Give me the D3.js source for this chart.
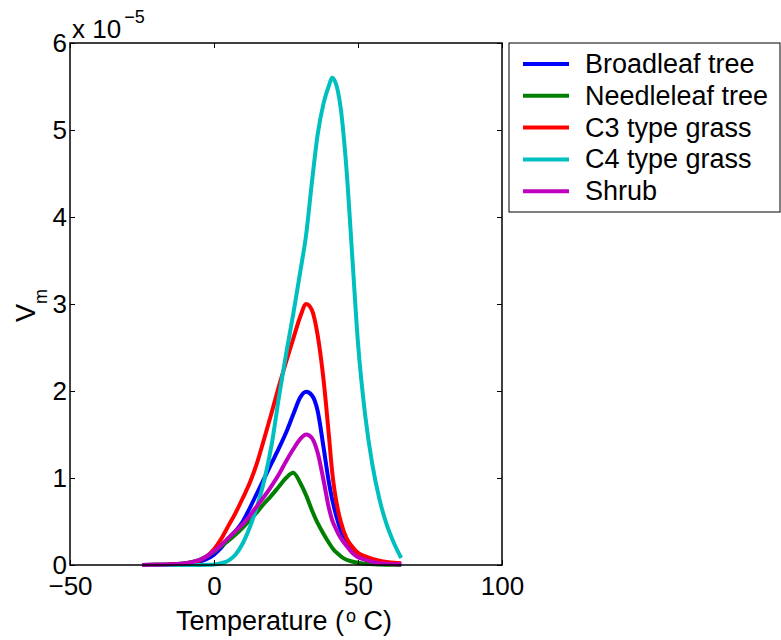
<!DOCTYPE html>
<html lang="en">
<head>
	<meta charset="UTF-8">
	<script src="https://d3js.org/d3.v7.min.js"></script>
	<title>Vm vs Temperature</title>
	<style type="text/css">
		body{ margin: 0; background: #fff; }
		text{ font-family: "Liberation Sans", Arial, Helvetica, sans-serif; fill: #000; }
		.line{ fill: none; stroke-width: 4; stroke-linejoin: round; }
	</style>
</head>
<body>
	<svg width="781" height="640"></svg>
<script>
// temperature (deg C), shared by every series
var temps = [-25, -20, -15, -10, -7.5, -5, -2.5, 0, 2.5, 5, 7.5, 10, 12.5, 15, 17.5, 20, 22.5, 25, 27.5, 30,
	32, 34, 36, 38, 40, 41, 42, 43, 44, 46, 48, 50, 52.5, 55, 57.5, 60, 62.5, 65];

// Vm in units of 1e-5
var broadleaf = [0, 0.002, 0.006, 0.015, 0.025, 0.04, 0.07, 0.12, 0.2, 0.3, 0.39, 0.5, 0.66, 0.83, 1.0, 1.17, 1.34, 1.52, 1.73, 1.93,
	1.99, 1.95, 1.77, 1.36, 0.93, 0.76, 0.62, 0.5, 0.4, 0.29, 0.2, 0.13, 0.08, 0.05, 0.03, 0.02, 0.015, 0.01];
var needleleaf = [0, 0.002, 0.007, 0.02, 0.035, 0.06, 0.1, 0.15, 0.22, 0.28, 0.35, 0.43, 0.52, 0.61, 0.71, 0.8, 0.9, 1.0, 1.06, 0.94,
	0.8, 0.63, 0.48, 0.36, 0.25, 0.2, 0.16, 0.13, 0.1, 0.06, 0.04, 0.025, 0.015, 0.01, 0.005, 0.003, 0.002, 0.001];
var c3grass = [0, 0.002, 0.006, 0.015, 0.03, 0.05, 0.1, 0.18, 0.3, 0.45, 0.6, 0.77, 0.95, 1.18, 1.46, 1.75, 2.05, 2.33, 2.6, 2.86,
	3.0, 2.93, 2.64, 2.14, 1.45, 1.08, 0.82, 0.64, 0.5, 0.31, 0.21, 0.14, 0.1, 0.07, 0.05, 0.035, 0.025, 0.02];
var c4grass = [0, 0, 0, 0, 0, 0, 0.002, 0.006, 0.02, 0.05, 0.12, 0.25, 0.44, 0.68, 0.98, 1.38, 1.92, 2.42, 2.88, 3.38,
	3.8, 4.4, 4.95, 5.3, 5.52, 5.6, 5.56, 5.45, 5.25, 4.55, 3.55, 2.55, 1.72, 1.15, 0.75, 0.46, 0.25, 0.08];
var shrub = [0, 0.003, 0.008, 0.02, 0.035, 0.06, 0.1, 0.16, 0.23, 0.31, 0.39, 0.47, 0.57, 0.68, 0.79, 0.91, 1.04, 1.19, 1.33, 1.45,
	1.5, 1.46, 1.29, 0.98, 0.64, 0.52, 0.44, 0.37, 0.31, 0.22, 0.14, 0.09, 0.06, 0.035, 0.02, 0.015, 0.01, 0.01];

var names = ["Broadleaf tree", "Needleleaf tree", "C3 type grass", "C4 type grass", "Shrub"];
var colors = ["#0000ff", "#008000", "#ff0000", "#00bfbf", "#bf00bf"];
var xTicks = [-50, 0, 50, 100];
var yTicks = [0, 1, 2, 3, 4, 5, 6];

var series = [broadleaf, needleleaf, c3grass, c4grass, shrub];

function main() {
	var svg = d3.select("svg");
	var mLeft = 70, mRight = 502, mTop = 43, mBottom = 565;

	var xScale = d3.scaleLinear().domain([-50, 100]).range([mLeft, mRight]),
		yScale = d3.scaleLinear().domain([0, 6]).range([mBottom, mTop]);

	// curves
	var line = d3.line()
		.x(function(d) { return xScale(d[0]); })
		.y(function(d) { return yScale(d[1]); })
		.curve(d3.curveMonotoneX);

	series.forEach(function(vals, i) {
		svg.append("path")
			.datum(temps.map(function(t, j) { return [t, vals[j]]; }))
			.attr("class", "line")
			.attr("stroke", colors[i])
			.attr("d", line);
	});

	// axes, ticks pointing inward
	function styleAxis(g) {
		g.select(".domain").remove();
		g.selectAll(".tick line").attr("stroke", "#000").attr("stroke-width", 1);
		g.selectAll(".tick text").attr("font-size", "26px").attr("fill", "#000")
			.style("font-family", "'Liberation Sans', Arial, sans-serif");
	}

	svg.append("g")
		.attr("transform", "translate(0," + mBottom + ")")
		.call(d3.axisBottom(xScale).tickValues(xTicks).tickSizeInner(-5).tickSizeOuter(0).tickPadding(12))
		.call(styleAxis);
	svg.append("g")
		.attr("transform", "translate(0," + mTop + ")")
		.call(d3.axisTop(xScale).tickValues(xTicks).tickSizeInner(-5).tickSizeOuter(0).tickFormat(""))
		.call(styleAxis);
	svg.append("g")
		.attr("transform", "translate(" + mLeft + ",0)")
		.call(d3.axisLeft(yScale).tickValues(yTicks).tickFormat(d3.format("d"))
			.tickSizeInner(-5).tickSizeOuter(0).tickPadding(3))
		.call(styleAxis);
	svg.append("g")
		.attr("transform", "translate(" + mRight + ",0)")
		.call(d3.axisRight(yScale).tickValues(yTicks).tickSizeInner(-5).tickSizeOuter(0).tickFormat(""))
		.call(styleAxis);

	svg.append("rect")
		.attr("x", mLeft).attr("y", mTop)
		.attr("width", mRight - mLeft).attr("height", mBottom - mTop)
		.attr("fill", "none").attr("stroke", "#000").attr("stroke-width", 1.5);

	// exponent label
	var ex = svg.append("text").attr("x", 72).attr("y", 38).attr("font-size", "26px");
	ex.append("tspan").text("x 10");
	ex.append("tspan").attr("font-size", "18px").attr("dx", 3).attr("dy", -15).text("\u22125");

	// axis titles
	var xl = svg.append("text").attr("x", 176).attr("y", 630).attr("font-size", "27px");
	xl.append("tspan").text("Temperature (");
	xl.append("tspan").attr("font-size", "18px").attr("dx", 2).attr("dy", -8).text("o");
	xl.append("tspan").attr("dy", 8).text(" C)");

	var yl = svg.append("text").attr("transform", "translate(35,322) rotate(-90)").attr("font-size", "27px");
	yl.append("tspan").text("V");
	yl.append("tspan").attr("font-size", "18px").attr("dy", 12).text("m");

	// legend
	var legend = svg.append("g");
	legend.append("rect")
		.attr("x", 509).attr("y", 43).attr("width", 271).attr("height", 169)
		.attr("fill", "#fff").attr("stroke", "#000").attr("stroke-width", 1);

	names.forEach(function(n, i) {
		var ly = 64 + i * 31.8;
		legend.append("line")
			.attr("x1", 523).attr("x2", 569).attr("y1", ly).attr("y2", ly)
			.attr("stroke", colors[i]).attr("stroke-width", 4);
		legend.append("text")
			.attr("x", 585).attr("y", ly + 9).attr("font-size", "27px")
			.text(n);
	});
}
main();
</script>
</body>
</html>
